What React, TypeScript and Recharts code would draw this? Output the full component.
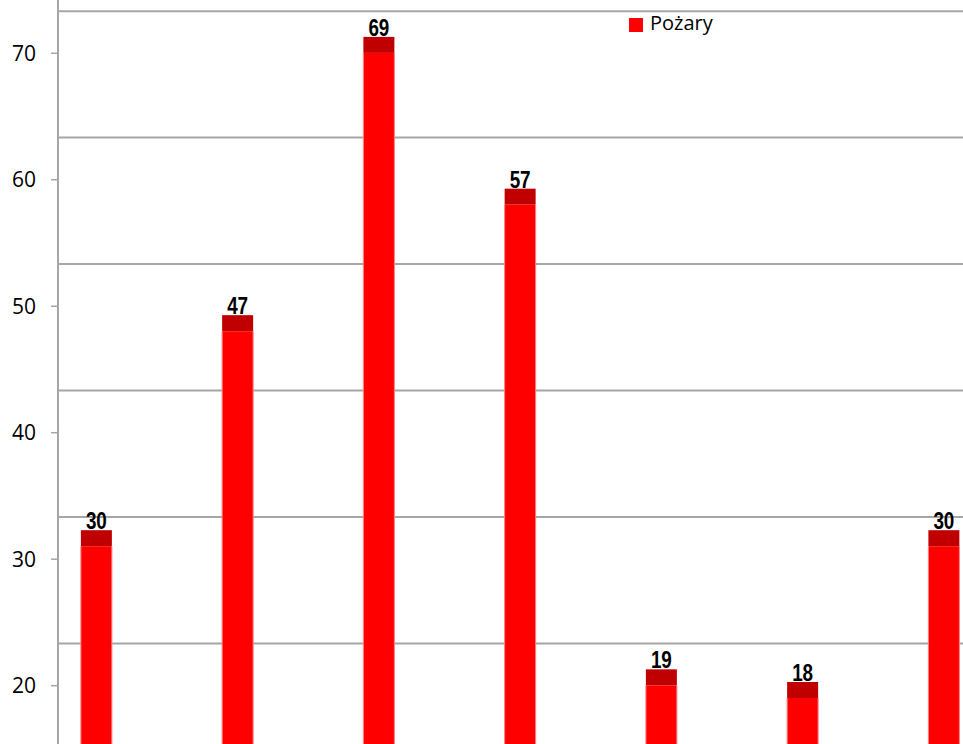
import React from 'react';
import { BarChart, Bar, XAxis, YAxis, CartesianGrid, Legend, LabelList } from 'recharts';

const categories = ['1', '2', '3', '4', '5', '6', '7'];
const pozary = [30, 47, 69, 57, 19, 18, 30];
const yTicks = [20, 30, 40, 50, 60, 70];

const data = categories.map((name, i) => ({ name, pos: i, pozary: pozary[i] }));

// 3D look: dark top face above the red front
const Bar3D = (props: any) => {
  const { x, y, width, height } = props;
  if (!width || height == null) return null;
  return (
    <g>
      <rect x={x} y={y - 29} width={width} height={16} fill="#c00000" />
      <rect x={x} y={y - 13} width={width} height={height + 13} fill="#ff0000" />
      <line x1={x} x2={x} y1={y - 13} y2={y + height} stroke="#ff8080" strokeWidth={1} />
      <line x1={x + width} x2={x + width} y1={y - 13} y2={y + height} stroke="#ff8080" strokeWidth={1} />
    </g>
  );
};

// narrow bold value label
const ValueLabel = (props: any) => {
  const { x, y, width, value } = props;
  const s = String(value);
  return (
    <text
      x={x + width / 2}
      y={y - 30}
      textAnchor="middle"
      fill="#000"
      fontSize={24}
      fontWeight="bold"
      fontFamily="'Liberation Sans', Arial, sans-serif"
      textLength={s.length * 10.5}
      lengthAdjust="spacingAndGlyphs"
    >
      {s}
    </text>
  );
};

const App = () => {
  return (
    <div style={{ position: 'absolute', left: 0, top: 0, fontFamily: "'Open Sans', sans-serif" }}>
      <BarChart width={963} height={744} data={data} margin={{ top: 0, right: 0, left: 0, bottom: 0 }}>
        <XAxis type="number" dataKey="pos" domain={[-0.2726, 6.1345]} allowDataOverflow hide />
        <YAxis
          yAxisId="main"
          width={58}
          domain={[15.39, 74.21]}
          ticks={yTicks}
          allowDataOverflow
          tickSize={7}
          tickMargin={15}
          axisLine={{ stroke: '#a6a6a6', strokeWidth: 2 }}
          tickLine={{ stroke: '#a6a6a6', strokeWidth: 1.5 }}
          tick={{ fill: '#000', fontSize: 21, fontFamily: "'Open Sans', sans-serif" }}
        />
        <YAxis yAxisId="grid" width={0} domain={[12.06, 70.88]} ticks={yTicks} allowDataOverflow hide />
        <CartesianGrid yAxisId="grid" vertical={false} syncWithTicks stroke="#a6a6a6" strokeWidth={2} />
        <Legend
          layout="horizontal"
          verticalAlign="middle"
          align="center"
          iconType="square"
          iconSize={14}
          wrapperStyle={{ left: 629, top: 9, width: 'auto', fontSize: 20 }}
          formatter={(v: string) => <span style={{ color: '#000', marginLeft: 3 }}>{v}</span>}
        />
        <Bar
          yAxisId="main"
          dataKey="pozary"
          name="Pożary"
          fill="#ff0000"
          barSize={31}
          shape={<Bar3D />}
          isAnimationActive={false}
        >
          <LabelList dataKey="pozary" content={<ValueLabel />} />
        </Bar>
      </BarChart>
    </div>
  );
};

export default App;
